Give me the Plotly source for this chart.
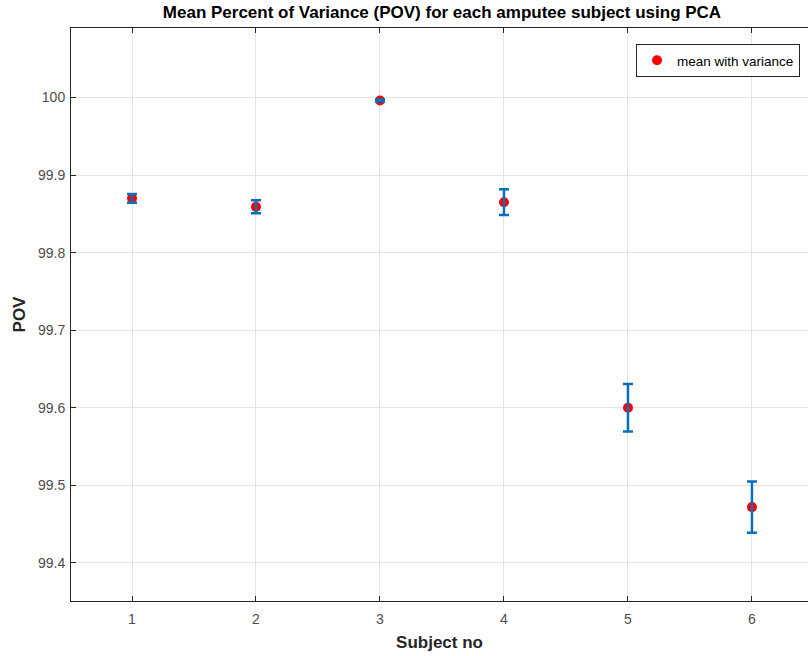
import plotly.graph_objects as go

subjects = [1, 2, 3, 4, 5, 6]
mean_pov = [99.870, 99.859, 99.996, 99.865, 99.600, 99.472]
variance = [0.0056, 0.0084, 0.0012, 0.0166, 0.0307, 0.0330]
x_ticks = [1, 2, 3, 4, 5, 6]
y_ticks = [99.4, 99.5, 99.6, 99.7, 99.8, 99.9, 100]
y_tick_labels = ["99.4", "99.5", "99.6", "99.7", "99.8", "99.9", "100"]

FONT = "Liberation Sans, Arial, Helvetica, sans-serif"
BLUE = "#0072BD"
AXC = "#262626"

fig = go.Figure()
fig.add_trace(go.Scatter(
    x=subjects, y=mean_pov, mode="markers",
    marker=dict(color="#FF0000", size=10, line=dict(width=0)),
    name="mean with variance", showlegend=True,
))
fig.add_trace(go.Scatter(
    x=subjects, y=mean_pov, mode="markers",
    marker=dict(color="rgba(0,0,0,0)", size=1),
    error_y=dict(type="data", array=variance, visible=True,
                 color=BLUE, thickness=2.5, width=5),
    showlegend=False, hoverinfo="skip",
))

fig.update_layout(
    width=808, height=656,
    margin=dict(l=71, r=0, t=28, b=55),
    paper_bgcolor="white", plot_bgcolor="white",
    font=dict(family=FONT, size=13, color=AXC),
    title=dict(text="<b>Mean Percent of Variance (POV) for each amputee subject using PCA</b>",
               x=442 / 808, xanchor="center", y=1 - 12 / 656, yanchor="middle",
               font=dict(size=17, color="black")),
    legend=dict(x=(800 - 71) / 737, xanchor="right", y=1 - 16 / 573, yanchor="top",
                bgcolor="white", bordercolor=AXC, borderwidth=1,
                font=dict(size=13.5, color="black"), itemwidth=30,
                tracegroupgap=0),
    showlegend=True,
)
fig.update_xaxes(
    range=[0.508, 6.452], tickvals=x_ticks, ticktext=[str(v) for v in x_ticks],
    showgrid=True, gridcolor="#E3E3E3", gridwidth=1,
    showline=True, linecolor=AXC, linewidth=1, mirror="ticks",
    ticks="inside", ticklen=5, tickcolor=AXC, zeroline=False,
    ticklabelstandoff=5,
    tickfont=dict(size=14, color="#4D4D4D"),
    title=dict(text="<b>Subject no</b>", font=dict(size=17, color=AXC), standoff=10),
)
fig.update_yaxes(
    range=[99.351, 100.0895], tickvals=y_ticks, ticktext=y_tick_labels,
    showgrid=True, gridcolor="#E3E3E3", gridwidth=1,
    showline=True, linecolor=AXC, linewidth=1,
    ticks="inside", ticklen=5, tickcolor=AXC, zeroline=False,
    ticklabelstandoff=2,
    tickfont=dict(size=14, color="#4D4D4D"),
    title=dict(text="<b>POV</b>", font=dict(size=17, color=AXC), standoff=8),
)

fig.write_html("out.html")
